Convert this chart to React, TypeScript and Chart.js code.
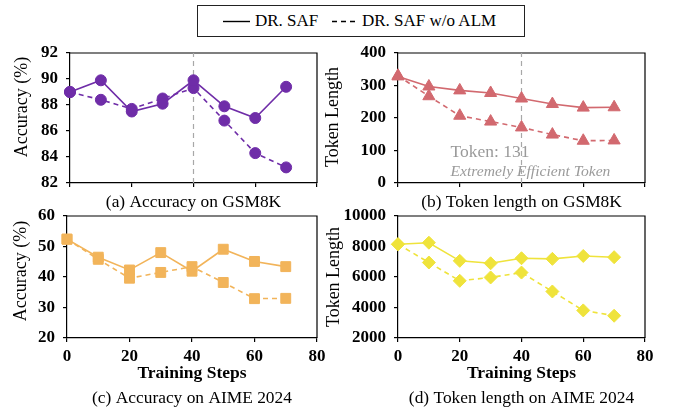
import React, { useEffect, useRef } from "react";
import { Chart, registerables } from "chart.js";

Chart.register(...registerables);

// ---------- data ----------
const steps = [0, 10, 20, 30, 40, 50, 60, 70];
const seriesNames = ["DR. SAF", "DR. SAF w/o ALM"];

const gsmAccSaf = [89.0, 89.9, 87.5, 88.1, 89.9, 87.9, 87.0, 89.4];
const gsmAccNoAlm = [89.0, 88.4, 87.7, 88.5, 89.3, 86.8, 84.3, 83.2];

const gsmTokSaf = [328, 297, 285, 277, 260, 243, 232, 233];
const gsmTokNoAlm = [330, 267, 207, 189, 171, 149, 130, 131];

const aimeAccSaf = [52.4, 46.5, 42.3, 48.0, 41.9, 49.1, 45.1, 43.4];
const aimeAccNoAlm = [52.4, 45.8, 39.6, 41.5, 43.4, 38.2, 32.9, 33.0];

const aimeTokSaf = [8150, 8250, 7060, 6900, 7230, 7190, 7380, 7300];
const aimeTokNoAlm = [8150, 6950, 5750, 5970, 6290, 5050, 3810, 3460];

const xRange = [0, 80, 20];
const gsmAccRange = [82, 92, 2];
const gsmTokRange = [0, 400, 100];
const aimeAccRange = [20, 60, 10];
const aimeTokRange = [2000, 10000, 2000];

const captions = [
  "(a) Accuracy on GSM8K",
  "(b) Token length on GSM8K",
  "(c) Accuracy on AIME 2024",
  "(d) Token length on AIME 2024",
];
const yTitles = ["Accuracy (%)", "Token Length", "Accuracy (%)", "Token Length"];
const xTitle = "Training Steps";
const markerStep = 40;
const noteValue = 131;
const noteLines = [`Token: ${noteValue}`, "Extremely Efficient Token"];

// ---------- styling ----------
const FONT = "'Liberation Serif', 'Times New Roman', serif";
const W = 675;
const H = 411;
const Y_TITLE_SIZE = 18;
const X_TITLE_SIZE = 17.5;
const X_TITLE_LH = X_TITLE_SIZE * 1.2;

type PanelCfg = {
  area: { l: number; r: number; t: number; b: number };
  yTitleX: number;
  yTitleY: number;
  yTitle: string;
  range: number[];
  color: string;
  pointStyle: string;
  radius: number;
  saf: number[];
  noAlm: number[];
  caption: string;
  captionY: number;
  bottomRow: boolean;
  xTitleY?: number;
  vline?: boolean;
  note?: boolean;
};

const panels: PanelCfg[] = [
  {
    area: { l: 70, r: 317, t: 53, b: 183 },
    yTitleX: 22,
    yTitleY: 107,
    yTitle: yTitles[0],
    range: gsmAccRange,
    color: "#6F2DA8",
    pointStyle: "circle",
    radius: 5.5,
    saf: gsmAccSaf,
    noAlm: gsmAccNoAlm,
    caption: captions[0],
    captionY: 202,
    bottomRow: false,
    vline: true,
  },
  {
    area: { l: 398, r: 645, t: 53, b: 183 },
    yTitleX: 333,
    yTitleY: 117,
    yTitle: yTitles[1],
    range: gsmTokRange,
    color: "#D2696F",
    pointStyle: "triangle",
    radius: 7,
    saf: gsmTokSaf,
    noAlm: gsmTokNoAlm,
    caption: captions[1],
    captionY: 202,
    bottomRow: false,
    vline: true,
    note: true,
  },
  {
    area: { l: 67, r: 317, t: 216, b: 338 },
    yTitleX: 21.5,
    yTitleY: 271,
    yTitle: yTitles[2],
    range: aimeAccRange,
    color: "#F2B45A",
    pointStyle: "rect",
    radius: 7,
    saf: aimeAccSaf,
    noAlm: aimeAccNoAlm,
    caption: captions[2],
    captionY: 398,
    bottomRow: true,
    xTitleY: 373,
  },
  {
    area: { l: 398, r: 645, t: 216, b: 338 },
    yTitleX: 334,
    yTitleY: 277,
    yTitle: yTitles[3],
    range: aimeTokRange,
    color: "#EFE33B",
    pointStyle: "rectRot",
    radius: 6.5,
    saf: aimeTokSaf,
    noAlm: aimeTokNoAlm,
    caption: captions[3],
    captionY: 398,
    bottomRow: true,
    xTitleY: 373,
  },
];

const framePlugin = {
  id: "frame",
  beforeDatasetsDraw(chart: any) {
    const { ctx, chartArea } = chart;
    ctx.save();
    ctx.strokeStyle = "#000";
    ctx.lineWidth = 1.2;
    ctx.beginPath();
    ctx.moveTo(chartArea.left, chartArea.top);
    ctx.lineTo(chartArea.right, chartArea.top);
    ctx.lineTo(chartArea.right, chartArea.bottom);
    ctx.stroke();
    ctx.restore();
  },
};

const textPlugin = {
  id: "panelText",
  afterDraw(chart: any, _args: any, opts: any) {
    const { ctx, chartArea, scales } = chart;
    ctx.save();
    ctx.fillStyle = "#000";
    ctx.textAlign = "center";
    ctx.textBaseline = "middle";
    ctx.font = `17.4px ${FONT}`;
    ctx.fillText(opts.caption, (chartArea.left + chartArea.right) / 2, opts.captionY);

    // y-axis title
    ctx.save();
    ctx.translate(opts.yTitleX, opts.yTitleY);
    ctx.rotate(-Math.PI / 2);
    ctx.font = `${Y_TITLE_SIZE}px ${FONT}`;
    ctx.fillText(opts.yTitle, 0, 0);
    ctx.restore();

    if (opts.note) {
      const x = scales.x.getPixelForValue(17);
      ctx.textAlign = "left";
      ctx.fillStyle = "#9a9a9a";
      ctx.font = `17.5px ${FONT}`;
      ctx.fillText(noteLines[0], x, scales.y.getPixelForValue(95));
      ctx.font = `italic 15.6px ${FONT}`;
      ctx.fillText(noteLines[1], x, scales.y.getPixelForValue(33));
    }
    ctx.restore();
  },
};

function buildConfig(p: PanelCfg): any {
  const [yMin, yMax, yStep] = p.range;
  const yWidth = p.area.l - p.yTitleX + 12;
  const xHeight = p.bottomRow ? (p.xTitleY as number) - p.area.b + 15 : 20;
  const pts = (arr: number[]) => steps.map((x, i) => ({ x, y: arr[i] }));
  const common = {
    borderColor: p.color,
    backgroundColor: p.color,
    pointBackgroundColor: p.color,
    pointBorderColor: p.color,
    pointBorderWidth: 1,
    pointStyle: p.pointStyle,
    pointRadius: p.radius,
    borderWidth: 1.6,
    tension: 0,
    clip: false,
  };
  const datasets: any[] = [
    { label: seriesNames[0], data: pts(p.saf), ...common, order: 1 },
    { label: seriesNames[1], data: pts(p.noAlm), ...common, borderDash: [5, 4], order: 2 },
  ];
  if (p.vline) {
    datasets.push({
      label: "divider",
      data: [
        { x: markerStep, y: yMin },
        { x: markerStep, y: yMax },
      ],
      borderColor: "#a8a8a8",
      borderWidth: 1.2,
      borderDash: [5, 4],
      pointRadius: 0,
      order: 10,
    });
  }
  return {
    type: "line",
    data: { datasets },
    plugins: [framePlugin, textPlugin],
    options: {
      responsive: false,
      animation: false,
      devicePixelRatio: 1,
      layout: {
        padding: {
          left: p.area.l - yWidth,
          right: W - p.area.r,
          top: p.area.t,
          bottom: H - p.area.b - xHeight,
        },
      },
      plugins: {
        legend: { display: false },
        tooltip: { enabled: false },
        title: { display: false },
        panelText: {
          caption: p.caption,
          captionY: p.captionY,
          note: !!p.note,
          yTitle: p.yTitle,
          yTitleX: p.yTitleX,
          yTitleY: p.yTitleY,
        },
      },
      scales: {
        x: {
          type: "linear",
          min: xRange[0],
          max: xRange[1],
          afterFit: (s: any) => {
            s.height = xHeight;
          },
          ticks: {
            stepSize: xRange[2],
            display: p.bottomRow,
            color: "#000",
            padding: 4,
            font: { family: FONT, size: 17, weight: "bold" },
            maxRotation: 0,
            callback: (v: any) => String(v),
          },
          grid: {
            display: true,
            drawOnChartArea: false,
            drawTicks: true,
            tickLength: 4,
            color: "#000",
            lineWidth: 1.2,
          },
          border: { display: true, color: "#000", width: 1.2 },
          title: {
            display: p.bottomRow,
            text: xTitle,
            color: "#000",
            font: { family: FONT, size: X_TITLE_SIZE, weight: "bold", lineHeight: 1.2 },
            padding: { top: 0, bottom: 15 - X_TITLE_LH / 2 },
          },
        },
        y: {
          type: "linear",
          min: yMin,
          max: yMax,
          afterFit: (s: any) => {
            s.width = yWidth;
          },
          ticks: {
            stepSize: yStep,
            color: "#000",
            padding: 8,
            font: { family: FONT, size: 17, weight: "bold" },
            callback: (v: any) => String(v),
          },
          grid: {
            display: true,
            drawOnChartArea: false,
            drawTicks: true,
            tickLength: 4,
            color: "#000",
            lineWidth: 1.2,
          },
          border: { display: true, color: "#000", width: 1.2 },
          title: { display: false },
        },
      },
    },
  };
}

function PanelChart({ p }: { p: PanelCfg }) {
  const ref = useRef<HTMLCanvasElement | null>(null);
  useEffect(() => {
    if (!ref.current) return;
    const chart = new Chart(ref.current, buildConfig(p));
    return () => chart.destroy();
  }, [p]);
  return (
    <canvas
      ref={ref}
      width={W}
      height={H}
      style={{ position: "absolute", left: 0, top: 0, width: W, height: H }}
    />
  );
}

function Legend() {
  const textStyle: React.CSSProperties = {
    position: "absolute",
    top: 0,
    height: 30,
    lineHeight: "30px",
    fontFamily: FONT,
    fontSize: 17,
    color: "#000",
    whiteSpace: "nowrap",
  };
  return (
    <div
      style={{
        position: "absolute",
        left: 197,
        top: 5,
        width: 326,
        height: 30,
        border: "1.3px solid #222",
        background: "#fff",
      }}
    >
      <svg style={{ position: "absolute", left: 25, top: 14 }} width={28} height={3}>
        <line x1={0} y1={1.5} x2={27} y2={1.5} stroke="#000" strokeWidth={1.4} />
      </svg>
      <span style={{ ...textStyle, left: 57 }}>{seriesNames[0]}</span>
      <svg style={{ position: "absolute", left: 134, top: 14 }} width={27} height={3}>
        <line x1={0} y1={1.5} x2={26} y2={1.5} stroke="#000" strokeWidth={1.4} strokeDasharray="5,4" />
      </svg>
      <span style={{ ...textStyle, left: 164 }}>{seriesNames[1]}</span>
    </div>
  );
}

export default function App() {
  return (
    <div
      style={{
        position: "fixed",
        left: 0,
        top: 0,
        width: W,
        height: H,
        background: "#fff",
        overflow: "hidden",
      }}
    >
      {panels.map((p, i) => (
        <PanelChart key={i} p={p} />
      ))}
      <Legend />
    </div>
  );
}
